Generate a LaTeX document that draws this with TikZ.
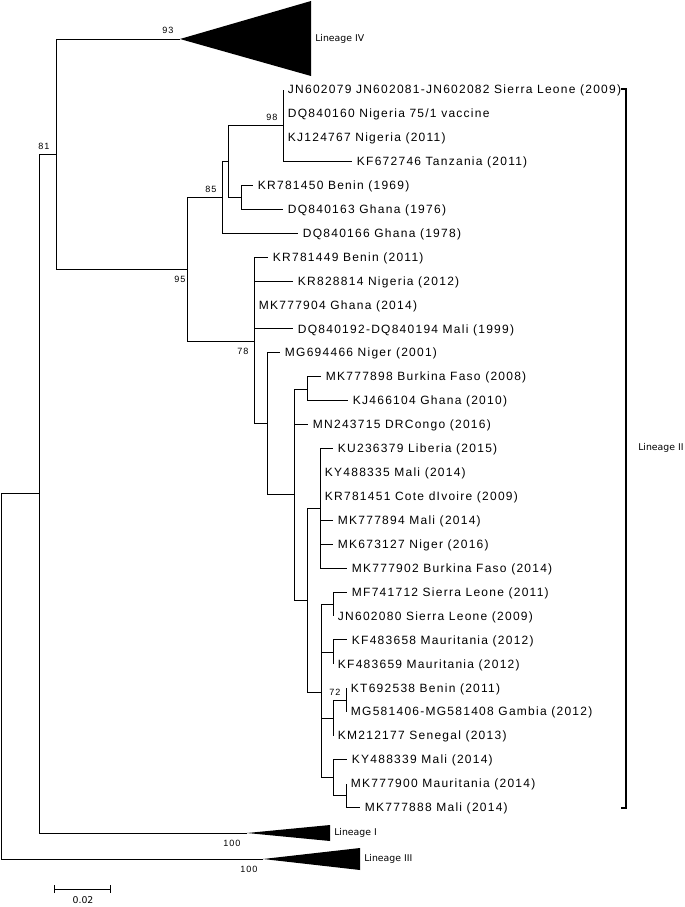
\documentclass[tikz,border=0pt]{standalone}
\usepackage{fontspec}
\usepackage{tikz}
\usetikzlibrary{arrows.meta}
\newfontfamily\leaffont[LetterSpace=10.5]{Liberation Sans}
\newfontfamily\linfont{DejaVu Sans}

\begin{document}
\begin{tikzpicture}[x=0.75pt,y=-0.75pt,
	branch/.style={line width=0.75pt},
	leaf/.style={anchor=west,inner xsep=3.5pt,inner ysep=0pt,text height=6.4pt,text depth=0pt,font=\leaffont\fontsize{9}{10}\selectfont},
	boot/.style={inner sep=0pt,font=\leaffont\fontsize{6.8}{7}\selectfont},
	lineage/.style={anchor=west,inner sep=0pt,font=\linfont\fontsize{7}{8}\selectfont},
	clade/.style={fill=black}]

	\useasboundingbox (0,0) rectangle (685,907);

	% inner nodes of the tree
	\coordinate (root) at (1,676);
	\coordinate (n0) at (39,493);
	\coordinate (n81) at (56,154);
	\coordinate (n95) at (187,269);
	\coordinate (n85) at (222,197);
	\coordinate (nA) at (228,161);
	\coordinate (n98) at (283,125);
	\coordinate (nB1) at (241,197);
	\coordinate (n78) at (254,341);
	\coordinate (nB) at (267,423);
	\coordinate (nC) at (294,494);
	\coordinate (nD) at (307,389);
	\coordinate (nF) at (307,600);
	\coordinate (nE) at (320,508);
	\coordinate (nG) at (321,692);
	\coordinate (nH) at (333,604);
	\coordinate (nI) at (333,652);
	\coordinate (nJ) at (333,718);
	\coordinate (nK) at (346,700);
	\coordinate (nL) at (333,777);
	\coordinate (nM) at (346,795);

	% collapsed lineages
	\coordinate (t4) at (180,39);
	\coordinate (t1) at (247,833);
	\coordinate (t3) at (263,859);
	\fill[clade] (t4) -- (311,1) -- (311,76) -- cycle;
	\fill[clade] (t1) -- (330,825) -- (330,841) -- cycle;
	\fill[clade] (t3) -- (360,848) -- (360,870) -- cycle;
	\node[lineage] (linIV) at (315,39) {Lineage IV};
	\node[lineage] (linI) at (334,833) {Lineage I};
	\node[lineage] (linIII) at (364,859) {Lineage III};

	% leaves
	\node[leaf] (l1) at (283,89.5) {JN602079 JN602081-JN602082 Sierra Leone (2009)};
	\node[leaf] (l2) at (283,113.4) {DQ840160 Nigeria 75/1 vaccine};
	\node[leaf] (l3) at (283,137.4) {KJ124767 Nigeria (2011)};
	\node[leaf] (l4) at (352,161.3) {KF672746 Tanzania (2011)};
	\node[leaf] (l5) at (253,185.2) {KR781450 Benin (1969)};
	\node[leaf] (l6) at (283,209.2) {DQ840163 Ghana (1976)};
	\node[leaf] (l7) at (298,233.1) {DQ840166 Ghana (1978)};
	\node[leaf] (l8) at (268,257.0) {KR781449 Benin (2011)};
	\node[leaf] (l9) at (293,281.0) {KR828814 Nigeria (2012)};
	\node[leaf] (l10) at (254,304.9) {MK777904 Ghana (2014)};
	\node[leaf] (l11) at (293,328.8) {DQ840192-DQ840194 Mali (1999)};
	\node[leaf] (l12) at (280,352.7) {MG694466 Niger (2001)};
	\node[leaf] (l13) at (321,376.7) {MK777898 Burkina Faso (2008)};
	\node[leaf] (l14) at (348,400.6) {KJ466104 Ghana (2010)};
	\node[leaf] (l15) at (308,424.5) {MN243715 DRCongo (2016)};
	\node[leaf] (l16) at (333,448.5) {KU236379 Liberia (2015)};
	\node[leaf] (l17) at (320,472.4) {KY488335 Mali (2014)};
	\node[leaf] (l18) at (320,496.3) {KR781451 Cote dIvoire (2009)};
	\node[leaf] (l19) at (333,520.2) {MK777894 Mali (2014)};
	\node[leaf] (l20) at (333,544.2) {MK673127 Niger (2016)};
	\node[leaf] (l21) at (347,568.1) {MK777902 Burkina Faso (2014)};
	\node[leaf] (l22) at (347,592.0) {MF741712 Sierra Leone (2011)};
	\node[leaf] (l23) at (333,616.0) {JN602080 Sierra Leone (2009)};
	\node[leaf] (l24) at (347,639.9) {KF483658 Mauritania (2012)};
	\node[leaf] (l25) at (333,663.8) {KF483659 Mauritania (2012)};
	\node[leaf] (l26) at (346,687.8) {KT692538 Benin (2011)};
	\node[leaf] (l27) at (346,711.7) {MG581406-MG581408 Gambia (2012)};
	\node[leaf] (l28) at (333,735.6) {KM212177 Senegal (2013)};
	\node[leaf] (l29) at (347,759.5) {KY488339 Mali (2014)};
	\node[leaf] (l30) at (346,783.5) {MK777900 Mauritania (2014)};
	\node[leaf] (l31) at (360,807.4) {MK777888 Mali (2014)};

	% branches
	\draw[branch] (root) |- (n0) (root) |- (t3);
	\draw[branch] (n0) |- (n81) (n0) |- (t1);
	\draw[branch] (n81) |- (t4) (n81) |- (n95);
	\draw[branch] (n95) |- (n85) (n95) |- (n78);
	\draw[branch] (n85) |- (nA) (n85) |- (l7.west);
	\draw[branch] (nA) |- (n98) (nA) |- (nB1);
	\draw[branch] (n98) |- (l1.west) (n98) |- (l2.west) (n98) |- (l3.west) (n98) |- (l4.west);
	\draw[branch] (nB1) |- (l5.west) (nB1) |- (l6.west);
	\draw[branch] (n78) |- (l8.west) (n78) |- (l9.west) (n78) |- (l10.west) (n78) |- (l11.west) (n78) |- (nB);
	\draw[branch] (nB) |- (l12.west) (nB) |- (nC);
	\draw[branch] (nC) |- (nD) (nC) |- (l15.west) (nC) |- (nF);
	\draw[branch] (nD) |- (l13.west) (nD) |- (l14.west);
	\draw[branch] (nF) |- (nE) (nF) |- (nG);
	\draw[branch] (nE) |- (l16.west) (nE) |- (l17.west) (nE) |- (l18.west) (nE) |- (l19.west) (nE) |- (l20.west) (nE) |- (l21.west);
	\draw[branch] (nG) |- (nH) (nG) |- (nI) (nG) |- (nJ) (nG) |- (nL);
	\draw[branch] (nH) |- (l22.west) (nH) |- (l23.west);
	\draw[branch] (nI) |- (l24.west) (nI) |- (l25.west);
	\draw[branch] (nJ) |- (nK) (nJ) |- (l28.west);
	\draw[branch] (nK) |- (l26.west) (nK) |- (l27.west);
	\draw[branch] (nL) |- (l29.west) (nL) |- (nM);
	\draw[branch] (nM) |- (l30.west) (nM) |- (l31.west);

	% bootstrap values
	\node[boot] (b93) at (168,30) {93};
	\node[boot] (b81) at (44,146) {81};
	\node[boot] (b98) at (272,117) {98};
	\node[boot] (b85) at (211,189) {85};
	\node[boot] (b95) at (180,279) {95};
	\node[boot] (b78) at (243,351) {78};
	\node[boot] (b72) at (335,692) {72};
	\node[boot] (b100a) at (232,843) {100};
	\node[boot] (b100b) at (249,869) {100};

	% lineage II bracket
	\draw[line width=1pt] (621,89) -- (626,89) -- (626,808) -- (621,808);
	\node[lineage] (linII) at (638,448) {Lineage II};

	% scale bar
	\coordinate (sa) at (54,889);
	\coordinate (sb) at (111,889);
	\draw[branch,{Bar[width=6pt]}-{Bar[width=6pt]}] (sa) -- (sb);
	\node[inner sep=0pt,font=\linfont\fontsize{7}{8}\selectfont] (scl) at (83,900) {0.02};

\end{tikzpicture}
\end{document}
